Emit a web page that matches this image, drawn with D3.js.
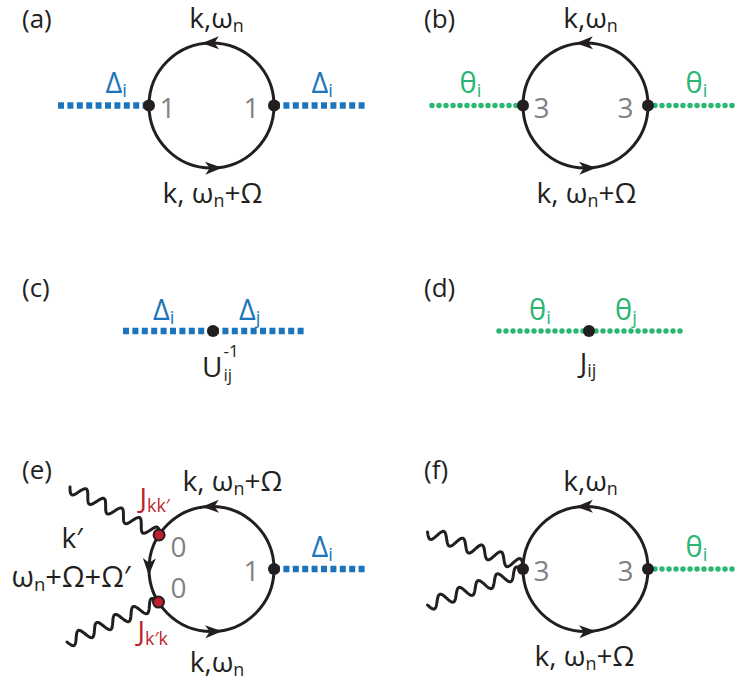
<!DOCTYPE html>
<html>
<head>
<meta charset="utf-8">
<script src="https://cdn.jsdelivr.net/npm/d3@7"></script>
<style>
  body { margin: 0; background: #fff; }
  svg { display: block; }
  text { font-family: "Open Sans", "DejaVu Sans", sans-serif; }
</style>
</head>
<body>
<div id="chart"></div>
<script>
// Panel letters in reading order
const panelLetters = ["(a)", "(b)", "(c)", "(d)", "(e)", "(f)"];

// Bubble (loop) diagrams (a), (b), (e), (f)
const loopTopLabels = ["k,ω_{n}", "k,ω_{n}", "k, ω_{n}+Ω", "k,ω_{n}"];
const loopBottomLabels = ["k, ω_{n}+Ω", "k, ω_{n}+Ω", "k,ω_{n}", "k, ω_{n}+Ω"];
const vertexOrders = [["1", "1"], ["3", "3"], ["0", "1"], ["3", "3"]];
const fieldNames = ["Δ_{i}", "θ_{i}", "Δ_{i}", "θ_{i}"];
const fieldKinds = ["delta", "theta", "delta", "theta"];

// Bare propagators (c), (d)
const propFields = [["Δ_{i}", "Δ_{j}"], ["θ_{i}", "θ_{j}"]];
const propKinds = ["delta", "theta"];
const propCouplings = ["U", "J_{ij}"];

// Scattering insertion in (e)
const couplingLabels = ["J_{kk′}", "J_{k′k}"];
const innerLabels = ["k′", "ω_{n}+Ω+Ω′"];

const W = 738, H = 684;
const ink = "#231f20", grey = "#808285", blue = "#1c75bc", green = "#2bb673", red = "#be1e2d";
const fs = 28;

const svg = d3.select("#chart").append("svg")
  .attr("width", W).attr("height", H);

// diagram centres
const col = d3.scaleOrdinal().domain([0, 1]).range([211.5, 585.5]);
const row = d3.scaleOrdinal().domain([0, 1, 2]).range([105.5, 331, 569]);
const R = 62.5;

function rich(x, y, str, color, anchor, size) {
  size = size || fs;
  const t = svg.append("text")
    .attr("x", x).attr("y", y)
    .attr("font-size", size)
    .attr("fill", color)
    .attr("text-anchor", anchor || "start");
  const parts = str.split(/(_\{[^}]*\})/).filter(s => s);
  let shift = 0;
  parts.forEach(p => {
    if (p.startsWith("_{")) {
      const d = size * 0.15;
      t.append("tspan").attr("font-size", size * 0.64).attr("dy", d - shift).text(p.slice(2, -1));
      shift = d;
    } else {
      t.append("tspan").attr("dy", -shift).text(p);
      shift = 0;
    }
  });
  return t;
}

function leg(x0, x1, y, kind) {
  const l = svg.append("line")
    .attr("x1", x0).attr("x2", x1).attr("y1", y).attr("y2", y);
  if (kind === "delta") {
    l.attr("stroke", blue).attr("stroke-width", 6.5).attr("stroke-dasharray", "6 3.4");
  } else {
    l.attr("stroke", green).attr("stroke-width", 5.5).attr("stroke-linecap", "round").attr("stroke-dasharray", "0 7");
  }
}

function dot(x, y) {
  svg.append("circle").attr("cx", x).attr("cy", y).attr("r", 6).attr("fill", ink);
}

const pt = (cx, cy, a) => [cx + R * Math.cos(a * Math.PI / 180), cy - R * Math.sin(a * Math.PI / 180)];

function arrow(cx, cy, a) {
  const [x, y] = pt(cx, cy, a);
  // counter-clockwise tangent on screen
  const rot = Math.atan2(-Math.cos(a * Math.PI / 180), -Math.sin(a * Math.PI / 180)) * 180 / Math.PI;
  svg.append("path")
    .attr("d", "M8.5,0 L-8.5,-6.5 L-4,0 L-8.5,6.5 Z")
    .attr("fill", ink)
    .attr("transform", `translate(${x},${y}) rotate(${rot})`);
}

function wavy(p0, p1, waves, amp) {
  const dx = p1[0] - p0[0], dy = p1[1] - p0[1];
  const len = Math.hypot(dx, dy);
  const ux = dx / len, uy = dy / len;
  const pts = d3.range(0, 1.0001, 1 / 160).map(t => {
    const s = amp * Math.sin(t * waves * 2 * Math.PI);
    return [p0[0] + dx * t - uy * s, p0[1] + dy * t + ux * s];
  });
  svg.append("path")
    .attr("d", d3.line()(pts))
    .attr("fill", "none").attr("stroke", ink).attr("stroke-width", 3)
    .attr("stroke-linecap", "round");
}

// panel letters
const letterX = [22, 424], letterY = [28, 297, 479];
panelLetters.forEach((s, i) => {
  svg.append("text")
    .attr("x", letterX[i % 2]).attr("y", letterY[Math.floor(i / 2)])
    .attr("font-size", 26).attr("fill", ink).text(s);
});

// loop diagrams
const loopCells = [[0, 0], [1, 0], [0, 2], [1, 2]];
const legLen = 91;
loopCells.forEach(([ci, ri], k) => {
  const cx = col(ci), cy = row(ri);
  const both = ri === 0;
  // external legs
  if (both) leg(cx - R - legLen, cx - R, cy, fieldKinds[k]);
  leg(cx + R, Math.min(cx + R + legLen, W), cy, fieldKinds[k]);

  // wavy lines for (e) and (f)
  if (k === 2) {
    wavy([cx - 141.5, cy - 82], pt(cx, cy, 147), 5, 6);
    wavy([cx - 144.5, cy + 73], pt(cx, cy, 212), 5, 6);
  }
  if (k === 3) {
    wavy([cx - 158, cy - 37], [cx - R, cy - 3], 5, 6);
    wavy([cx - 158, cy + 36], [cx - R, cy + 2], 5, 6);
  }

  svg.append("circle").attr("cx", cx).attr("cy", cy).attr("r", R)
    .attr("fill", "none").attr("stroke", ink).attr("stroke-width", 3);
  arrow(cx, cy, 91);
  arrow(cx, cy, 272);
  if (k === 2) arrow(cx, cy, 178);

  // vertices
  if (k === 2) {
    [147, 212].forEach(a => {
      const [x, y] = pt(cx, cy, a);
      svg.append("circle").attr("cx", x).attr("cy", y).attr("r", 5.5)
        .attr("fill", red).attr("stroke", ink).attr("stroke-width", 2);
    });
  } else {
    dot(cx - R, cy);
  }
  dot(cx + R, cy);

  // labels on the loop
  const topDx = k === 2 ? 21 : 5;
  rich(cx + topDx, cy - 78, loopTopLabels[k], ink, "middle");
  const botDx = [1, 1, 5.5, -1][k];
  const botDy = [97.5, 97.5, 103, 97][k];
  rich(cx + botDx, cy + botDy, loopBottomLabels[k], ink, "middle");

  // vertex orders
  if (k === 2) {
    rich(cx - 41, cy - 12, vertexOrders[k][0], grey, "start", 28);
    rich(cx - 41, cy + 29, vertexOrders[k][0], grey, "start", 28);
  } else {
    rich(cx - 52, cy + 12, vertexOrders[k][0], grey, "start", 28);
  }
  rich(cx + 48, cy + 12, vertexOrders[k][1], grey, "end", 28);

  // field labels
  const fc = fieldKinds[k] === "delta" ? blue : green;
  rich(cx + 100, cy - 12.5, fieldNames[k], fc, "start", 29);
  if (both) rich(cx + (k === 0 ? -106 : -126), cy - 12.5, fieldNames[k], fc, "start", 29);

  if (k === 2) {
    rich(cx - 72, cy - 61, couplingLabels[0], red, "start", 28);
    rich(cx - 74, cy + 72, couplingLabels[1], red, "start", 28);
    rich(cx - 150, cy - 21, innerLabels[0], ink, "start");
    rich(cx - 200, cy + 18, innerLabels[1], ink, "start", 29);
  }
});

// bare propagators (c), (d)
[0, 1].forEach(ci => {
  const cx = col(ci) + (ci === 0 ? 1.5 : 3.5), cy = row(1);
  const kind = propKinds[ci];
  leg(cx - 90, cx, cy, kind);
  leg(cx, cx + 92, cy, kind);
  dot(cx, cy);
  const fc = kind === "delta" ? blue : green;
  rich(cx - 60, cy - 11, propFields[ci][0], fc, "start", 29);
  rich(cx + 26, cy - 11, propFields[ci][1], fc, "start", 29);
  if (ci === 0) {
    const u = svg.append("text").attr("x", cx - 11).attr("y", cy + 46)
      .attr("font-size", fs).attr("fill", ink).text(propCouplings[0]);
    const w = u.node().getComputedTextLength();
    svg.append("text").attr("x", cx - 11 + w + 1).attr("y", cy + 50)
      .attr("font-size", 17).attr("fill", ink).text("ij");
    svg.append("text").attr("x", cx - 11 + w + 1).attr("y", cy + 26)
      .attr("font-size", 17).attr("fill", ink).text("-1");
  } else {
    rich(cx - 1, cy + 42, propCouplings[1], ink, "middle");
  }
});
</script>
</body>
</html>
